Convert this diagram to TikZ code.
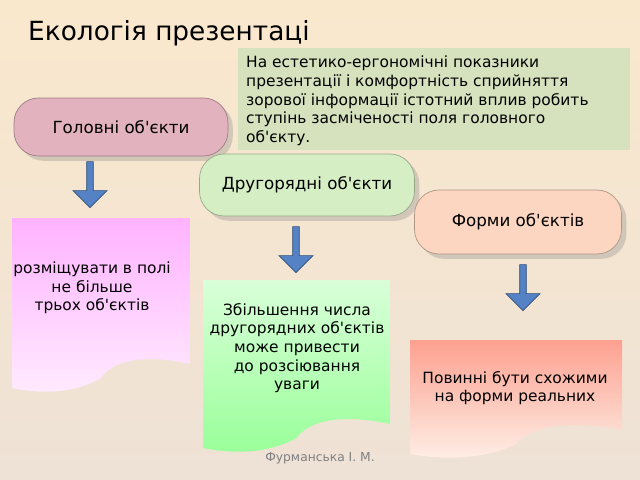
\documentclass[tikz,border=0pt]{standalone}
\usepackage{fontspec}
\setmainfont{DejaVu Sans}
\usetikzlibrary{shapes.arrows,shadows}
\definecolor{bgtop}{RGB}{250,232,205}
\definecolor{bgbot}{RGB}{238,226,214}
\definecolor{pinkpill}{RGB}{226,178,190}
\definecolor{greenpill}{RGB}{214,238,196}
\definecolor{peachpill}{RGB}{252,214,192}
\definecolor{notebox}{RGB}{214,226,190}
\definecolor{arrowblue}{RGB}{84,130,196}
\newcommand{\ap}{\textquotesingle}
\tikzset{
  pill/.style = {rounded corners=14pt, draw=#1!70!black, fill=#1, minimum height=58*0.02cm,
                 font=\fontsize{9.5}{11}\selectfont, drop shadow={opacity=0.3}},
  downarrow/.style = {single arrow, draw=arrowblue!60!black, fill=arrowblue, rotate=-90,
                 minimum height=46*0.02cm, minimum width=34*0.02cm, single arrow head extend=5pt,
                 inner sep=1pt},
  body/.style = {font=\fontsize{8.8}{10.6}\selectfont, align=center}
}
\newcommand{\wavedoc}[6]{% x1,y1,x2,y2,top colour,bottom colour
  \shade[top color=#5, bottom color=#6]
    (#1,#2) -- (#3,#2) -- (#3,#4-28)
    .. controls ({#3-(#3-#1)*0.3},#4-40) and ({#1+(#3-#1)*0.55},#4-28) .. ({(#1+#3)/2},#4-14)
    .. controls ({#1+(#3-#1)*0.35},#4+2) and ({#1+(#3-#1)*0.15},#4+2) .. (#1,#4-4) -- cycle;}
\begin{document}
\begin{tikzpicture}[x=0.02cm, y=-0.02cm]
\shade[top color=bgtop, bottom color=bgbot] (0,0) rectangle (640,480);

\node[anchor=west, font=\fontsize{15}{18}\selectfont] (title) at (22,33) {Екологія презентаці};

\fill[notebox] (238,48) rectangle (630,150);
\node[anchor=north west, align=left, font=\fontsize{8.8}{10.6}\selectfont] (note) at (240,50)
  {На естетико-ергономічні показники\\презентації і комфортність сприйняття\\зорової інформації істотний вплив робить\\ступінь засміченості поля головного\\об\ap єкту.};

\node[pill=pinkpill, minimum width=214*0.02cm] (main) at (121,127) {Головні об\ap єкти};
\node[pill=greenpill, minimum width=215*0.02cm, minimum height=62*0.02cm] (second) at (307,185) {Другорядні об\ap єкти};
\node[pill=peachpill, minimum width=207*0.02cm, minimum height=64*0.02cm] (forms) at (518,222) {Форми об\ap єктів};

\node[downarrow] (arrA) at (90,183) {};
\node[downarrow] (arrB) at (296,248) {};
\node[downarrow] (arrC) at (523,286) {};

\wavedoc{12}{218}{190}{392}{magenta!30!white}{white!92!magenta}
\wavedoc{203}{280}{390}{452}{green!15!white}{green!40!white}
\wavedoc{410}{340}{622}{458}{red!25!peachpill}{peachpill!40!white}

\node[body] (docA) at (92,288) {розміщувати в полі\\не більше\\ трьох об\ap єктів};
\node[body] (docB) at (297,348) {Збільшення числа\\другорядних об\ap єктів\\може привести\\до розсіювання\\уваги};
\node[body] (docC) at (515,388) {Повинні бути схожими\\ на форми реальних};

\node[text=gray, font=\fontsize{7}{8}\selectfont] (author) at (320,458) {Фурманська І. М.};
\end{tikzpicture}
\end{document}
